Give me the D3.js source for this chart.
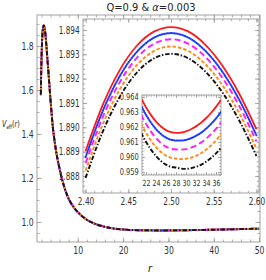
<!DOCTYPE html>
<html><head><meta charset="utf-8">
<script src="https://cdn.jsdelivr.net/npm/d3@7"></script>
<style>
body{margin:0;background:#fff;}
text{font-family:"DejaVu Sans Condensed","DejaVu Sans",sans-serif;font-stretch:condensed;}
</style></head>
<body><svg id="c" width="266" height="280"></svg>
<script>
// ---- data ----
const seriesNames = ["red","blue","magenta","orange","black"];
const mainR = [1.85,1.9,2.0,2.1,2.2,2.3,2.4,2.5,2.6,2.7,2.8,3.0,3.3,3.6,4.0,4.5,5.0,6.0,7.0,8.0,9.0,10,12,14,16,18,20,22,25,28,32,36,40,45,50];
const mainV = [1.58,1.65,1.745,1.81,1.855,1.879,1.889,1.894,1.890,1.880,1.865,1.82,1.74,1.66,1.55,1.43,1.35,1.24,1.16,1.105,1.07,1.045,1.010,0.990,0.978,0.970,0.966,0.9633,0.9622,0.9616,0.9620,0.9633,0.9650,0.9672,0.9695];

const in1R = [2.40,2.42,2.44,2.46,2.48,2.50,2.52,2.54,2.56,2.58,2.60];
const in1Red     = [1.88902,1.89091,1.89235,1.89335,1.89393,1.89412,1.89394,1.89340,1.89254,1.89137,1.88992];
const in1Blue    = [1.88877,1.89066,1.89210,1.89310,1.89368,1.89387,1.89369,1.89315,1.89229,1.89112,1.88967];
const in1Magenta = [1.88852,1.89041,1.89185,1.89285,1.89343,1.89362,1.89344,1.89290,1.89204,1.89087,1.88942];
const in1Orange  = [1.88822,1.89011,1.89155,1.89255,1.89313,1.89332,1.89314,1.89260,1.89174,1.89057,1.88912];
const in1Black   = [1.88792,1.88981,1.89125,1.89225,1.89283,1.89302,1.89284,1.89230,1.89144,1.89027,1.88882];

const in2R = [21,22,23,24,25,26,27,28,29,30,31,32,33,34,35,36,37];
const in2Red     = [0.96393,0.96331,0.96279,0.96236,0.96203,0.96179,0.96165,0.96160,0.96163,0.96171,0.96185,0.96204,0.96228,0.96258,0.96293,0.96334,0.96380];
const in2Blue    = [0.96343,0.96281,0.96229,0.96186,0.96153,0.96129,0.96115,0.96110,0.96110,0.96114,0.96125,0.96141,0.96161,0.96188,0.96220,0.96257,0.96300];
const in2Magenta = [0.96283,0.96221,0.96169,0.96126,0.96093,0.96069,0.96055,0.96050,0.96049,0.96052,0.96062,0.96076,0.96096,0.96121,0.96152,0.96188,0.96230];
const in2Orange  = [0.96223,0.96161,0.96109,0.96066,0.96033,0.96009,0.95995,0.95990,0.95986,0.95988,0.95995,0.96007,0.96025,0.96048,0.96076,0.96111,0.96150];
const in2Black   = [0.96163,0.96101,0.96049,0.96006,0.95973,0.95949,0.95935,0.95930,0.95923,0.95921,0.95925,0.95934,0.95948,0.95968,0.95993,0.96024,0.96060];

const mainXTicks = [10,20,30,40,50];
const mainYTicks = [1.0,1.2,1.4,1.6,1.8];
const in1XTicks = [2.40,2.45,2.50,2.55,2.60];
const in1YTicks = [1.888,1.889,1.890,1.891,1.892,1.893,1.894];
const in2XTicks = [22,24,26,28,30,32,34,36];
const in2YTicks = [0.959,0.960,0.961,0.962,0.963,0.964];

// ---- styles ----
const styles = {
  red:    {color:"#ff1a1a", dash:null, w:1.8},
  blue:   {color:"#1a3cff", dash:"1.2,1.4", w:2.0},
  magenta:{color:"#ff1aff", dash:"6,3.5", w:1.9},
  orange: {color:"#ff8a14", dash:"3.5,2", w:1.9},
  black:  {color:"#111111", dash:"4.5,1.8,1.4,1.8", w:1.9}
};

const svg = d3.select("#c");
let clipId = 0;
const SX = 0.82; // narrow tick font

function panel(box, xd, yd, xMaj, yMaj, xMin, yMin, fmtX, fmtY, fsx, fsy, tl){
  const x = d3.scaleLinear().domain(xd).range([box.x0, box.x1]);
  const y = d3.scaleLinear().domain(yd).range([box.y1, box.y0]);
  const gg = svg.append("g");
  if (box.bg) gg.append("rect").attr("x",box.x0).attr("y",box.y0).attr("width",box.x1-box.x0).attr("height",box.y1-box.y0).attr("fill","#fff");
  const id = "clip"+(clipId++);
  gg.append("clipPath").attr("id",id).append("rect").attr("x",box.x0).attr("y",box.y0).attr("width",box.x1-box.x0).attr("height",box.y1-box.y0);
  const ax = (gen, tr) => gg.append("g").attr("transform",tr).call(gen)
      .call(s=>s.select(".domain").remove())
      .call(s=>s.selectAll("line").attr("stroke","#999").attr("stroke-width",0.8));
  const Lmaj = tl, Lmin = tl*0.55;
  ax(d3.axisBottom(x).tickValues(xMin).tickSize(-Lmin).tickFormat(""), `translate(0,${box.y1})`);
  ax(d3.axisBottom(x).tickValues(xMaj).tickSize(-Lmaj).tickFormat(fmtX).tickPadding(5), `translate(0,${box.y1})`)
    .selectAll("text").attr("font-size",fsx).attr("fill","#333").attr("transform",`scale(${SX},1)`);
  ax(d3.axisTop(x).tickValues(xMin).tickSize(-Lmin).tickFormat(""), `translate(0,${box.y0})`);
  ax(d3.axisTop(x).tickValues(xMaj).tickSize(-Lmaj).tickFormat(""), `translate(0,${box.y0})`);
  ax(d3.axisLeft(y).tickValues(yMin).tickSize(-Lmin).tickFormat(""), `translate(${box.x0},0)`);
  ax(d3.axisLeft(y).tickValues(yMaj).tickSize(-Lmaj).tickFormat(fmtY).tickPadding(4), `translate(${box.x0},0)`)
    .selectAll("text").attr("font-size",fsy).attr("fill","#333").attr("transform",`scale(${SX},1)`);
  ax(d3.axisRight(y).tickValues(yMin).tickSize(-Lmin).tickFormat(""), `translate(${box.x1},0)`);
  ax(d3.axisRight(y).tickValues(yMaj).tickSize(-Lmaj).tickFormat(""), `translate(${box.x1},0)`);
  gg.append("rect").attr("x",box.x0).attr("y",box.y0).attr("width",box.x1-box.x0).attr("height",box.y1-box.y0)
    .attr("fill","none").attr("stroke","#999").attr("stroke-width",0.9);
  const lines = gg.append("g").attr("clip-path",`url(#${id})`);
  return {x,y,lines};
}

function drawSeries(p, R, vals, name){
  const st = styles[name];
  const line = d3.line().x(d=>p.x(d[0])).y(d=>p.y(d[1])).curve(d3.curveMonotoneX);
  p.lines.append("path").datum(R.map((r,i)=>[r,vals[i]]))
    .attr("d",line).attr("fill","none").attr("stroke",st.color)
    .attr("stroke-width",st.w).attr("stroke-dasharray",st.dash)
    .attr("stroke-linecap", name==="blue" ? "round" : "butt");
}

function range(a,b,s){const o=[];for(let v=a;v<=b+1e-9;v+=s)o.push(+v.toFixed(6));return o;}

// main panel
const pm = panel({x0:37,x1:260,y0:15,y1:242}, [1,50.2], [0.909,1.941],
  mainXTicks, mainYTicks, range(2,50,2), range(0.95,1.9,0.05),
  d3.format("d"), d3.format(".1f"), 10.5, 10.5, 4.5);
const mainSets = {red:mainV,blue:mainV,magenta:mainV,orange:mainV,black:mainV};
seriesNames.forEach(n=>drawSeries(pm, mainR, mainSets[n], n));

// inset 1
const p1 = panel({x0:83,x1:259,y0:19,y1:193,bg:true}, [2.397,2.603], [1.8873,1.89445],
  in1XTicks, in1YTicks, range(2.40,2.60,0.01), range(1.8874,1.8944,0.0002),
  d3.format(".2f"), d3.format(".3f"), 10, 10, 4);
const in1Sets = {red:in1Red,blue:in1Blue,magenta:in1Magenta,orange:in1Orange,black:in1Black};
seriesNames.forEach(n=>drawSeries(p1, in1R, in1Sets[n], n));

// inset 2
const p2 = panel({x0:142,x1:221,y0:95,y1:175,bg:true}, [21.2,37.0], [0.9588,0.96413],
  in2XTicks, in2YTicks, range(21.5,37,0.5), range(0.9588,0.9640,0.0002),
  d3.format("d"), d3.format(".3f"), 8.5, 9, 3);
const in2Sets = {red:in2Red,blue:in2Blue,magenta:in2Magenta,orange:in2Orange,black:in2Black};
seriesNames.forEach(n=>drawSeries(p2, in2R, in2Sets[n], n));

// title
const t = svg.append("text").attr("x",151).attr("y",11).attr("text-anchor","middle").attr("font-size",11).attr("fill","#222");
t.append("tspan").text("Q=0.9 & ");
t.append("tspan").attr("font-style","italic").text("α");
t.append("tspan").text("=0.003");

// y label
const yl = svg.append("text").attr("transform","translate(2,127) scale(0.8,1)").attr("font-size",9).attr("fill","#222");
yl.append("tspan").attr("font-style","italic").text("V");
yl.append("tspan").attr("font-size",6).attr("dy",2).text("eff");
yl.append("tspan").attr("dy",-2).text("(");
yl.append("tspan").attr("font-style","italic").text("r");
yl.append("tspan").text(")");

// x label
svg.append("text").attr("x",148).attr("y",272).attr("font-size",11).attr("font-style","italic").attr("fill","#222").text("r");
</script></body></html>
